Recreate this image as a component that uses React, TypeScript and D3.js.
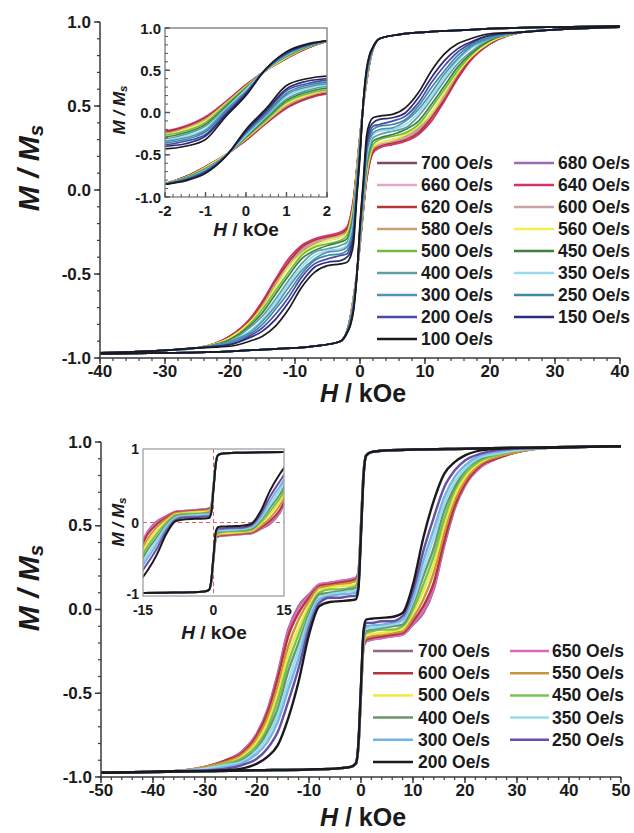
import React from 'react';
import * as d3 from 'd3';

type Pt = [number, number];

const FONT = '"Liberation Sans", Arial, Helvetica, sans-serif';

// ---- upper panel: sweep rates, colours, descending branch (H from +40 to -40 kOe) ----
const topRates = [700, 680, 660, 640, 620, 600, 580, 560, 500, 450, 400, 350, 300, 250, 200, 150, 100];
const topColors = ['#7b4a62', '#9b6ab8', '#e8a4cc', '#d83068', '#b03838', '#c9a3a3', '#c9a06c', '#f2ee4a', '#6cbf3c', '#3f7f3f', '#5b9ea4', '#96dcea', '#4f93b8', '#3f8aa0', '#4a4aaa', '#2c2c7c', '#1a1a1a'];
const topHeadH = [40, 30, 20, 15, 10, 6, 3];
const topHeadM = [0.975, 0.97, 0.96, 0.95, 0.94, 0.925, 0.9];
const topGridH = [2, 1.5, 1, 0.5, 0, -0.5, -1, -1.5, -2, -3, -5, -7, -9, -11, -13, -15, -17, -20];
const topTailH = [-25, -30, -40];
const topTailM = [-0.94, -0.955, -0.97];
const topM = [
  [0.84, 0.76, 0.64, 0.5, 0.32, 0.12, -0.07, -0.17, -0.23, -0.26, -0.28, -0.3, -0.35, -0.43, -0.55, -0.67, -0.78, -0.87], // 700
  [0.84, 0.76, 0.65, 0.5, 0.32, 0.12, -0.07, -0.18, -0.24, -0.27, -0.28, -0.31, -0.35, -0.43, -0.55, -0.68, -0.78, -0.87], // 680
  [0.84, 0.76, 0.64, 0.5, 0.33, 0.12, -0.06, -0.17, -0.23, -0.26, -0.28, -0.3, -0.34, -0.42, -0.54, -0.67, -0.77, -0.87], // 660
  [0.84, 0.76, 0.64, 0.5, 0.33, 0.13, -0.05, -0.16, -0.22, -0.25, -0.27, -0.29, -0.33, -0.41, -0.53, -0.66, -0.77, -0.87], // 640
  [0.84, 0.76, 0.64, 0.5, 0.32, 0.12, -0.06, -0.17, -0.23, -0.26, -0.28, -0.3, -0.34, -0.43, -0.54, -0.67, -0.78, -0.87], // 620
  [0.84, 0.77, 0.65, 0.5, 0.31, 0.11, -0.08, -0.19, -0.25, -0.27, -0.29, -0.31, -0.36, -0.45, -0.56, -0.69, -0.79, -0.88], // 600
  [0.84, 0.77, 0.65, 0.5, 0.31, 0.1, -0.09, -0.2, -0.25, -0.28, -0.3, -0.32, -0.37, -0.46, -0.57, -0.69, -0.79, -0.88], // 580
  [0.84, 0.77, 0.65, 0.5, 0.31, 0.1, -0.1, -0.2, -0.26, -0.28, -0.3, -0.33, -0.38, -0.46, -0.58, -0.7, -0.79, -0.88], // 560
  [0.84, 0.77, 0.66, 0.51, 0.3, 0.09, -0.12, -0.22, -0.27, -0.3, -0.32, -0.34, -0.39, -0.49, -0.6, -0.71, -0.8, -0.89], // 500
  [0.84, 0.78, 0.67, 0.51, 0.29, 0.07, -0.14, -0.24, -0.29, -0.31, -0.33, -0.36, -0.41, -0.51, -0.62, -0.73, -0.81, -0.89], // 450
  [0.84, 0.78, 0.67, 0.51, 0.28, 0.05, -0.16, -0.26, -0.31, -0.33, -0.35, -0.37, -0.44, -0.54, -0.65, -0.75, -0.82, -0.9], // 400
  [0.85, 0.79, 0.68, 0.51, 0.27, 0.04, -0.19, -0.28, -0.33, -0.35, -0.36, -0.39, -0.46, -0.56, -0.67, -0.77, -0.84, -0.9], // 350
  [0.85, 0.79, 0.69, 0.51, 0.25, 0.03, -0.21, -0.3, -0.34, -0.36, -0.37, -0.41, -0.48, -0.58, -0.69, -0.78, -0.85, -0.9], // 300
  [0.85, 0.79, 0.69, 0.51, 0.24, 0.01, -0.23, -0.32, -0.36, -0.38, -0.39, -0.42, -0.5, -0.61, -0.71, -0.8, -0.86, -0.91], // 250
  [0.85, 0.8, 0.7, 0.52, 0.23, -0.01, -0.26, -0.34, -0.38, -0.39, -0.41, -0.44, -0.52, -0.64, -0.74, -0.82, -0.87, -0.92], // 200
  [0.85, 0.8, 0.71, 0.52, 0.22, -0.03, -0.28, -0.37, -0.4, -0.42, -0.43, -0.46, -0.55, -0.67, -0.77, -0.84, -0.88, -0.92], // 150
  [0.85, 0.81, 0.72, 0.52, 0.2, -0.05, -0.32, -0.4, -0.43, -0.44, -0.45, -0.49, -0.58, -0.71, -0.81, -0.87, -0.9, -0.93], // 100
];
const topXTicks = [-40, -30, -20, -10, 0, 10, 20, 30, 40];
const topYTicks = [-1, -0.5, 0, 0.5, 1];
const topInsetXTicks = [-2, -1, 0, 1, 2];
const topInsetYTicks = [-1, -0.5, 0, 0.5, 1];

// ---- lower panel ----
const botRates = [700, 650, 600, 550, 500, 450, 400, 350, 300, 250, 200];
const botColors = ['#8a6a86', '#d66ac6', '#b8343c', '#c8943c', '#f4e640', '#74c450', '#6a966a', '#98dcec', '#74b4e4', '#6a4ea6', '#1a1a1a'];
const botHeadH = [50, 40, 30, 20, 10, 5, 2];
const botHeadM = [0.975, 0.97, 0.965, 0.96, 0.955, 0.95, 0.94];
const botGridH = [1, 0.5, 0, -0.5, -1, -2, -4, -6, -8, -10, -12, -14, -16, -18, -20, -23, -26, -30];
const botTailH = [-36, -42, -50];
const botTailM = [-0.965, -0.97, -0.975];
const botM = [
  [0.92, 0.82, 0.5, 0.22, 0.19, 0.18, 0.17, 0.16, 0.15, 0.09, 0.02, -0.12, -0.38, -0.6, -0.74, -0.85, -0.9, -0.94], // 700
  [0.92, 0.82, 0.5, 0.22, 0.19, 0.18, 0.17, 0.16, 0.15, 0.085, 0.01, -0.13, -0.39, -0.61, -0.74, -0.85, -0.9, -0.94], // 650
  [0.92, 0.82, 0.5, 0.21, 0.18, 0.17, 0.16, 0.15, 0.14, 0.07, -0.02, -0.16, -0.41, -0.62, -0.75, -0.86, -0.9, -0.94], // 600
  [0.92, 0.82, 0.49, 0.2, 0.17, 0.16, 0.15, 0.14, 0.13, 0.05, -0.06, -0.22, -0.46, -0.65, -0.77, -0.87, -0.91, -0.94], // 550
  [0.92, 0.81, 0.49, 0.19, 0.15, 0.145, 0.14, 0.13, 0.11, 0.02, -0.11, -0.27, -0.5, -0.68, -0.79, -0.88, -0.92, -0.95], // 500
  [0.92, 0.81, 0.48, 0.18, 0.14, 0.13, 0.12, 0.12, 0.1, 0.0, -0.15, -0.32, -0.54, -0.71, -0.81, -0.89, -0.92, -0.95], // 450
  [0.92, 0.81, 0.48, 0.17, 0.13, 0.12, 0.11, 0.1, 0.09, -0.03, -0.2, -0.37, -0.59, -0.73, -0.83, -0.9, -0.93, -0.95], // 400
  [0.92, 0.81, 0.47, 0.16, 0.11, 0.11, 0.1, 0.09, 0.07, -0.05, -0.24, -0.43, -0.63, -0.76, -0.84, -0.91, -0.93, -0.95], // 350
  [0.92, 0.81, 0.47, 0.15, 0.1, 0.095, 0.09, 0.08, 0.06, -0.07, -0.29, -0.48, -0.67, -0.79, -0.86, -0.92, -0.94, -0.96], // 300
  [0.92, 0.8, 0.46, 0.14, 0.08, 0.08, 0.07, 0.07, 0.04, -0.11, -0.35, -0.55, -0.73, -0.83, -0.89, -0.93, -0.95, -0.96], // 250
  [0.92, 0.8, 0.45, 0.12, 0.06, 0.055, 0.05, 0.045, 0.02, -0.15, -0.43, -0.65, -0.81, -0.88, -0.92, -0.95, -0.96, -0.965], // 200
];
const botXTicks = [-50, -40, -30, -20, -10, 0, 10, 20, 30, 40, 50];
const botYTicks = [-1, -0.5, 0, 0.5, 1];
const botInsetXTicks = [-15, 0, 15];
const botInsetYTicks = [-1, 0, 1];

// descending branch + mirrored ascending branch, both sorted by H
function loop(headH: number[], headM: number[], gridH: number[], m: number[], tailH: number[], tailM: number[]): Pt[][] {
  const H = [...headH, ...gridH, ...tailH];
  const M = [...headM, ...m, ...tailM];
  const down: Pt[] = H.map((h, i) => [h, M[i]] as Pt).reverse();
  const up: Pt[] = down.map(([h, v]) => [-h, -v] as Pt).reverse();
  return [down, up];
}

const topLoops = topM.map((m) => loop(topHeadH, topHeadM, topGridH, m, topTailH, topTailM));
const botLoops = botM.map((m) => loop(botHeadH, botHeadM, botGridH, m, botTailH, botTailM));

function Curves({ loops, colors, x, y, width, clip }: any) {
  const line = d3
    .line<Pt>()
    .x((d) => x(d[0]))
    .y((d) => y(d[1]))
    .curve(d3.curveMonotoneX);
  return (
    <g clipPath={clip ? `url(#${clip})` : undefined}>
      {loops.map((pair: Pt[][], i: number) =>
        pair.map((pts, j) => (
          <path key={`${i}-${j}`} d={line(pts) || ''} fill="none" stroke={colors[i]} strokeWidth={width} strokeLinejoin="round" />
        ))
      )}
    </g>
  );
}

function MainAxes({ x, y, xTicks, yTicks, minorX }: any) {
  const [x0, x1] = x.range();
  const [y0, y1] = y.range();
  const c = '#3a3a3a';
  return (
    <g fontFamily={FONT} fontWeight="bold" fontSize={17} fill="#1a1a1a">
      <line x1={x0} x2={x0} y1={y0} y2={y1} stroke={c} strokeWidth={1.5} />
      <line x1={x0} x2={x1} y1={y0} y2={y0} stroke={c} strokeWidth={1.5} />
      {y.ticks(20).map((v: number) => (
        <line key={'ym' + v} x1={x0 - 3} x2={x0} y1={y(v)} y2={y(v)} stroke={c} strokeWidth={1.2} />
      ))}
      {yTicks.map((v: number) => (
        <g key={'y' + v}>
          <line x1={x0 - 6} x2={x0} y1={y(v)} y2={y(v)} stroke={c} strokeWidth={1.5} />
          <text x={x0 - 9} y={y(v)} textAnchor="end" dominantBaseline="central">{v.toFixed(1)}</text>
        </g>
      ))}
      {x.ticks(minorX).map((v: number) => (
        <line key={'xm' + v} x1={x(v)} x2={x(v)} y1={y0} y2={y0 + 3} stroke={c} strokeWidth={1.2} />
      ))}
      {xTicks.map((v: number) => (
        <g key={'x' + v}>
          <line x1={x(v)} x2={x(v)} y1={y0} y2={y0 + 6} stroke={c} strokeWidth={1.5} />
          <text x={x(v)} y={y0 + 13} textAnchor="middle" dominantBaseline="central">{String(v)}</text>
        </g>
      ))}
    </g>
  );
}

function Legend({ rates, colors, rowY, dy, cols }: any) {
  return (
    <g fontFamily={FONT} fontWeight="bold" fontSize={17.5} fill="#1a1a1a">
      {rates.map((r: number, i: number) => {
        const col = cols[i % 2];
        const yy = rowY + Math.floor(i / 2) * dy;
        return (
          <g key={r}>
            <line x1={col[0]} x2={col[1]} y1={yy} y2={yy} stroke={colors[i]} strokeWidth={2.5} />
            <text x={col[2]} y={yy} dominantBaseline="central">{`${r} Oe/s`}</text>
          </g>
        );
      })}
    </g>
  );
}

function HTitle({ cx, cy, size }: any) {
  return (
    <text x={cx} y={cy} textAnchor="middle" dominantBaseline="central" fontFamily={FONT} fontWeight="bold" fontSize={size} fill="#1a1a1a">
      <tspan fontStyle="italic">H</tspan> / kOe
    </text>
  );
}

function MTitle({ cx, cy, size }: any) {
  return (
    <text transform={`translate(${cx},${cy}) rotate(-90)`} textAnchor="middle" dominantBaseline="central" fontFamily={FONT} fontWeight="bold" fontStyle="italic" fontSize={size} fill="#1a1a1a">
      M / M<tspan fontSize={size * 0.68} dy={size * 0.25}>s</tspan>
    </text>
  );
}

export default function App() {
  // upper panel scales
  const xT = d3.scaleLinear().domain([-40, 40]).range([100, 620]);
  const yT = d3.scaleLinear().domain([-1, 1]).range([358, 22]);
  const xTi = d3.scaleLinear().domain([-2, 2]).range([165, 327]);
  const yTi = d3.scaleLinear().domain([-1, 1]).range([197, 28]);
  // lower panel scales
  const xB = d3.scaleLinear().domain([-50, 50]).range([101, 621]);
  const yB = d3.scaleLinear().domain([-1, 1]).range([777, 442]);
  const xBi = d3.scaleLinear().domain([-15, 15]).range([143, 284]);
  const yBi = d3.scaleLinear().domain([-1, 1]).range([596, 449]);

  const frame = '#8a8a8a';

  return (
    <svg width={634} height={833} style={{ position: 'absolute', left: 0, top: 0, background: '#fff' }}>
      <defs>
        <clipPath id="clipTi">
          <rect x={165} y={28} width={162} height={169} />
        </clipPath>
        <clipPath id="clipBi">
          <rect x={143} y={449} width={141} height={147} />
        </clipPath>
      </defs>

      {/* ===== upper panel ===== */}
      <Curves loops={topLoops} colors={topColors} x={xT} y={yT} width={1.7} />
      <MainAxes x={xT} y={yT} xTicks={topXTicks} yTicks={topYTicks} minorX={40} />
      <HTitle cx={363} cy={393} size={25} />
      <MTitle cx={28} cy={168} size={30} />
      <Legend rates={topRates} colors={topColors} rowY={163} dy={22} cols={[[377, 417, 421], [514, 554, 558]]} />

      {/* upper inset */}
      <rect x={165} y={28} width={162} height={169} fill="#fff" />
      <Curves loops={topLoops} colors={topColors} x={xTi} y={yTi} width={1.6} clip="clipTi" />
      <rect x={165} y={28} width={162} height={169} fill="none" stroke={frame} strokeWidth={1.5} />
      <g stroke="#555" strokeWidth={1}>
        {yTi.ticks(20).map((v: number) => (
          <line key={'tiy' + v} x1={165} x2={168} y1={yTi(v)} y2={yTi(v)} />
        ))}
        {xTi.ticks(20).map((v: number) => (
          <line key={'tix' + v} x1={xTi(v)} x2={xTi(v)} y1={197} y2={194} />
        ))}
        {topInsetYTicks.map((v) => (
          <line key={'tiY' + v} x1={165} x2={170} y1={yTi(v)} y2={yTi(v)} strokeWidth={1.4} />
        ))}
        {topInsetXTicks.map((v) => (
          <line key={'tiX' + v} x1={xTi(v)} x2={xTi(v)} y1={197} y2={192} strokeWidth={1.4} />
        ))}
      </g>
      <g fontFamily={FONT} fontWeight="bold" fontSize={15} fill="#1a1a1a">
        {topInsetYTicks.map((v) => (
          <text key={'tyl' + v} x={161} y={yTi(v)} textAnchor="end" dominantBaseline="central">{v.toFixed(1)}</text>
        ))}
        {topInsetXTicks.map((v) => (
          <text key={'txl' + v} x={xTi(v)} y={210} textAnchor="middle" dominantBaseline="central">{String(v)}</text>
        ))}
      </g>
      <HTitle cx={246} cy={229} size={19} />
      <MTitle cx={119} cy={110} size={17} />

      {/* ===== lower panel ===== */}
      <Curves loops={botLoops} colors={botColors} x={xB} y={yB} width={2.4} />
      <MainAxes x={xB} y={yB} xTicks={botXTicks} yTicks={botYTicks} minorX={50} />
      <HTitle cx={363} cy={817} size={25} />
      <MTitle cx={28} cy={588} size={30} />
      <Legend rates={botRates} colors={botColors} rowY={651} dy={22.2} cols={[[373, 413, 418], [510, 549, 552]]} />

      {/* lower inset */}
      <rect x={143} y={449} width={141} height={147} fill="#fff" />
      <g stroke="#e06060" strokeWidth={1} strokeDasharray="4 3">
        <line x1={xBi(0)} x2={xBi(0)} y1={449} y2={596} />
        <line x1={143} x2={284} y1={yBi(0)} y2={yBi(0)} />
      </g>
      <Curves loops={botLoops} colors={botColors} x={xBi} y={yBi} width={2} clip="clipBi" />
      <rect x={143} y={449} width={141} height={147} fill="none" stroke="#a0a0a0" strokeWidth={1.3} />
      <g fontFamily={FONT} fontWeight="bold" fontSize={14} fill="#1a1a1a">
        {botInsetYTicks.map((v) => (
          <text key={'byl' + v} x={139} y={yBi(v) - (v === -1 ? 2 : 0)} textAnchor="end" dominantBaseline="central">{String(v)}</text>
        ))}
        {botInsetXTicks.map((v) => (
          <text key={'bxl' + v} x={xBi(v)} y={610} textAnchor="middle" dominantBaseline="central">{String(v)}</text>
        ))}
      </g>
      <HTitle cx={214} cy={632} size={19} />
      <MTitle cx={118} cy={522} size={17} />
    </svg>
  );
}
